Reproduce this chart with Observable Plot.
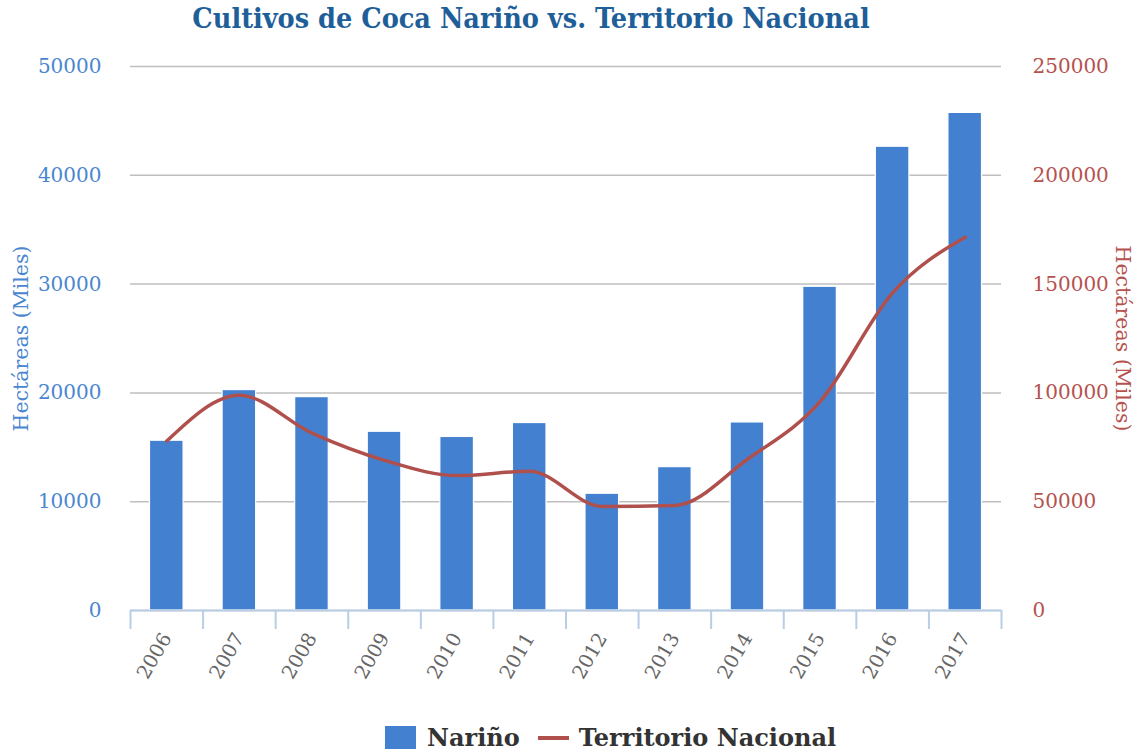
<!DOCTYPE html>
<html><head><meta charset="utf-8">
<script src="https://cdn.jsdelivr.net/npm/d3@7"></script>
<script src="https://cdn.jsdelivr.net/npm/@observablehq/plot@0.6"></script>
<style>
body{margin:0;background:#fff;}
#wrap{position:relative;width:1138px;height:753px;overflow:hidden;font-family:"DejaVu Serif",serif;background:#fff;}
#title{position:absolute;left:0;width:1062px;top:1px;text-align:center;font-family:"DejaVu Serif Condensed","DejaVu Serif",serif;font-weight:bold;font-size:28.5px;color:#1f5f99;white-space:nowrap;}
.layer{position:absolute;left:0;top:40px;}
#legend{position:absolute;left:385px;top:723px;display:flex;align-items:center;font-family:"DejaVu Serif",serif;font-weight:bold;font-size:24px;color:#333;white-space:nowrap;}
#legend .sq{display:inline-block;width:31px;height:23px;background:#4380cf;margin-right:11px;}
#legend .ln{display:inline-block;width:31px;height:4px;background:#b0504d;margin-left:18px;margin-right:10px;}
</style></head>
<body><div id="wrap">
<div id="title">Cultivos de Coca Nariño vs. Territorio Nacional</div>
<div id="bars" class="layer"></div>
<div id="line" class="layer"></div>
<div id="legend"><span class="sq"></span><span>Nariño</span><span class="ln"></span><span>Territorio Nacional</span></div>
</div>
<script>
const years = [2006, 2007, 2008, 2009, 2010, 2011, 2012, 2013, 2014, 2015, 2016, 2017];
const narino = [15606, 20259, 19612, 16428, 15951, 17231, 10733, 13177, 17285, 29755, 42627, 45735];
const nacional = [77870, 98899, 81500, 69000, 62000, 64000, 47800, 48200, 69500, 96000, 146000, 171500];
const leftTicks = [0, 10000, 20000, 30000, 40000, 50000];
const rightTicks = [0, 50000, 100000, 150000, 200000, 250000];
const axisTitle = "Hectáreas (Miles)";

const data = years.map((year, i) => ({year, narino: narino[i], nacional: nacional[i]}));
const edges = years.map(y => y - 0.5).concat([years[years.length - 1] + 0.5]);
const xDomain = [edges[0], edges[edges.length - 1]];

const common = {
  width: 1138, height: 660,
  marginTop: 26, marginBottom: 90, marginLeft: 130, marginRight: 137,
  style: {fontFamily: "DejaVu Serif", fontSize: "20px", background: "transparent", overflow: "visible"}
};

const p1 = Plot.plot({
  ...common,
  x: {domain: xDomain, axis: null},
  y: {domain: [0, 50000], axis: null},
  marks: [
    Plot.gridY(leftTicks, {stroke: "#bfbfbf", strokeOpacity: 1, strokeWidth: 1.5}),
    Plot.rectY(data, {x1: d => d.year - 0.5, x2: d => d.year + 0.5, y: "narino", insetLeft: 19.5, insetRight: 19.5, fill: "#4380cf", stroke: "#ffffff", strokeWidth: 1.2}),
    Plot.ruleY([0], {stroke: "#b9cde5", strokeWidth: 2}),
    Plot.axisX({ticks: edges, tickSize: 19, tickFormat: () => "", stroke: "#b9cde5", strokeWidth: 2}),
    Plot.axisX({ticks: years, tickFormat: d => String(d), tickSize: 0, tickPadding: 24, tickRotate: -60, fill: "#666", fontSize: 19.5, label: null}),
    Plot.axisY({ticks: leftTicks, tickSize: 0, tickPadding: 29, fill: "#4a86d0", tickFormat: d => String(d), label: null}),
    Plot.text([axisTitle], {frameAnchor: "left", textAnchor: "middle", rotate: -90, dx: -109, fill: "#4a86d0", fontSize: 20.5})
  ]
});
document.getElementById("bars").appendChild(p1);

const p2 = Plot.plot({
  ...common,
  x: {domain: xDomain, axis: null},
  y: {domain: [0, 250000], axis: null},
  marks: [
    Plot.line(data, {x: "year", y: "nacional", stroke: "#b0504d", strokeWidth: 3.5, curve: "monotone-x"}),
    Plot.axisY({anchor: "right", ticks: rightTicks, tickSize: 0, tickPadding: 31, fill: "#b5524e", tickFormat: d => String(d), label: null}),
    Plot.text([axisTitle], {frameAnchor: "right", textAnchor: "middle", rotate: 90, dx: 121, fill: "#b5524e", fontSize: 20.5})
  ]
});
document.getElementById("line").appendChild(p2);
</script>
</body></html>
